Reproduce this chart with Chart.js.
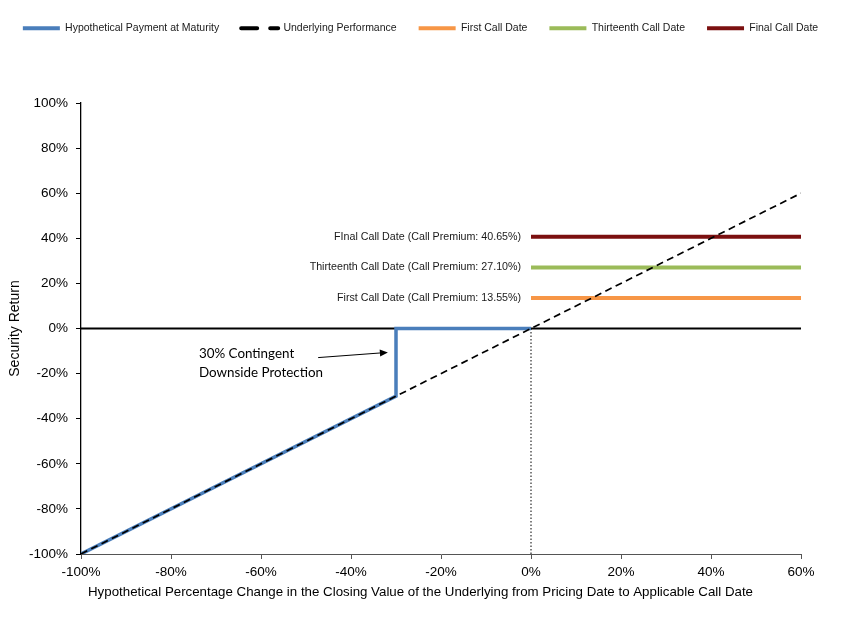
<!DOCTYPE html>
<html>
<head>
<meta charset="utf-8">
<script src="https://cdn.jsdelivr.net/npm/chart.js@4.4.0/dist/chart.umd.min.js"></script>
<style>
    body { margin: 0; background: #fff; }
</style>
</head>
<body>
<canvas id="myChart" width="841" height="623"></canvas>
<script>
// payoff at maturity (blue)
const payX = [-100, -30, -30, 0];
const payY = [-100, -30, 0, 0];

// underlying performance (dashed)
const underX = [-100, 60];
const underY = [-100, 60];

// call dates: flat premium lines from 0% to 60%
const callNames = ['First Call Date', 'Thirteenth Call Date', 'Final Call Date'];
const callPremiums = [13.55, 27.10, 40.65];
const callLabels = [
    'First Call Date (Call Premium: 13.55%)',
    'Thirteenth Call Date (Call Premium: 27.10%)',
    'FInal Call Date (Call Premium: 40.65%)'
];
const callX = [0, 60];
const callColors = ['#f79646', '#9bbb59', '#7b1010'];

const xTicks = [-100, -80, -60, -40, -20, 0, 20, 40, 60];
const yTicks = [-100, -80, -60, -40, -20, 0, 20, 40, 60, 80, 100];

const noteLines = ['30% Contingent', 'Downside Protection'];

const FONT = "'Liberation Sans', Arial, sans-serif";

function toPoints (xs, ys) {
    return xs.map((x, i) => ({ x: x, y: ys[i] }));
}

const datasets = [
    {
        label: 'Hypothetical Payment at Maturity',
        data: toPoints(payX, payY),
        borderColor: '#4a7ebb',
        borderWidth: 3.5,
        order: 2
    },
    {
        label: 'Underlying Performance',
        data: toPoints(underX, underY),
        borderColor: '#000',
        borderWidth: 1.7,
        borderDash: [7, 4.5],
        order: 0
    }
];

callPremiums.forEach((p, i) => {
    datasets.push({
        label: callNames[i],
        data: toPoints(callX, [p, p]),
        borderColor: callColors[i],
        borderWidth: 4,
        order: 3
    });
});

// zero line and dotted marker at 0%
datasets.push({
    label: 'zero',
    data: toPoints([-100, 60], [0, 0]),
    borderColor: '#000',
    borderWidth: 2,
    order: 5
});
datasets.push({
    label: 'marker',
    data: toPoints([0, 0], [0, -100]),
    borderColor: '#000',
    borderWidth: 1,
    borderDash: [1.5, 2],
    order: 4
});

datasets.forEach(ds => {
    ds.showLine = true;
    ds.pointRadius = 0;
    ds.pointHoverRadius = 0;
    ds.fill = false;
    ds.tension = 0;
});

// legend gets a fixed block so the plot starts where the original does
const legendSpace = {
    id: 'legendSpace',
    beforeInit (chart) {
        const origFit = chart.legend.fit;
        chart.legend.fit = function () {
            origFit.call(this);
            this.height = 102;
        };
    }
};

const notes = {
    id: 'notes',
    afterDatasetsDraw (chart) {
        const ctx = chart.ctx;
        const xs = chart.scales.x;
        const ys = chart.scales.y;
        ctx.save();

        // call premium labels
        ctx.font = '10.7px ' + FONT;
        ctx.fillStyle = '#1a1a1a';
        ctx.textAlign = 'right';
        ctx.textBaseline = 'middle';
        callLabels.forEach((t, i) => {
            ctx.fillText(t, xs.getPixelForValue(-2.2), ys.getPixelForValue(callPremiums[i]));
        });

        // protection note
        ctx.font = '13.4px Lato, sans-serif';
        ctx.fillStyle = '#000';
        ctx.textAlign = 'left';
        ctx.fillText(noteLines[0], xs.getPixelForValue(-73.8), ys.getPixelForValue(-11.1));
        ctx.fillText(noteLines[1], xs.getPixelForValue(-73.8), ys.getPixelForValue(-19.5));

        // arrow
        const x1 = xs.getPixelForValue(-47.3), y1 = ys.getPixelForValue(-12.9);
        const x2 = xs.getPixelForValue(-31.8), y2 = ys.getPixelForValue(-10.6);
        const ang = Math.atan2(y2 - y1, x2 - x1);
        ctx.strokeStyle = '#000';
        ctx.lineWidth = 1;
        ctx.beginPath();
        ctx.moveTo(x1, y1);
        ctx.lineTo(x2 - 6 * Math.cos(ang), y2 - 6 * Math.sin(ang));
        ctx.stroke();
        ctx.beginPath();
        ctx.moveTo(x2, y2);
        ctx.lineTo(x2 - 8 * Math.cos(ang) + 3.5 * Math.sin(ang), y2 - 8 * Math.sin(ang) - 3.5 * Math.cos(ang));
        ctx.lineTo(x2 - 8 * Math.cos(ang) - 3.5 * Math.sin(ang), y2 - 8 * Math.sin(ang) + 3.5 * Math.cos(ang));
        ctx.closePath();
        ctx.fillStyle = '#000';
        ctx.fill();

        // x axis title, centred on the whole picture
        ctx.font = '13.3px ' + FONT;
        ctx.textAlign = 'center';
        ctx.fillStyle = '#000';
        ctx.fillText('Hypothetical Percentage Change in the Closing Value of the Underlying from Pricing Date to Applicable Call Date',
            chart.width / 2, 592);

        ctx.restore();
    }
};

const config = {
    type: 'scatter',
    data: { datasets },
    options: {
        responsive: false,
        animation: false,
        layout: { padding: { top: 1, left: 0, right: 0, bottom: 0 } },
        plugins: {
            tooltip: { enabled: false },
            legend: {
                position: 'top',
                labels: {
                    usePointStyle: true,
                    pointStyleWidth: 37,
                    padding: 22,
                    color: '#1a1a1a',
                    font: { family: FONT, size: 10.5 },
                    generateLabels (chart) {
                        return chart.data.datasets.slice(0, 5).map((ds, i) => ({
                            text: ds.label,
                            datasetIndex: i,
                            pointStyle: 'line',
                            strokeStyle: ds.borderColor,
                            fillStyle: ds.borderColor,
                            lineWidth: 4,
                            lineDash: i === 1 ? [16, 13] : [],
                            lineCap: i === 1 ? 'round' : 'butt',
                            fontColor: '#1a1a1a',
                            hidden: false
                        }));
                    }
                }
            }
        },
        scales: {
            x: {
                type: 'linear',
                min: -100,
                max: 60,
                afterFit (scale) { scale.height = 69; },
                afterBuildTicks (scale) { scale.ticks = xTicks.map(v => ({ value: v })); },
                grid: { drawOnChartArea: false, tickLength: 5, color: '#555' },
                border: { color: '#555', width: 1 },
                ticks: {
                    padding: 5,
                    color: '#000',
                    font: { family: FONT, size: 13.5 },
                    callback: v => v + '%'
                }
            },
            y: {
                type: 'linear',
                min: -100,
                max: 100,
                afterFit (scale) { scale.width = 81; },
                afterBuildTicks (scale) { scale.ticks = yTicks.map(v => ({ value: v })); },
                grid: { drawOnChartArea: false, tickLength: 5, color: '#000' },
                border: { color: '#000', width: 1.3 },
                title: {
                    display: true,
                    text: 'Security Return',
                    color: '#000',
                    font: { family: FONT, size: 14 },
                    padding: { top: 7, bottom: 0 }
                },
                ticks: {
                    padding: 8,
                    color: '#000',
                    font: { family: FONT, size: 13.5 },
                    callback: v => v + '%'
                }
            },
            // empty right margin, keeps the legend on one centred row
            yr: {
                type: 'linear',
                position: 'right',
                min: -100,
                max: 100,
                afterFit (scale) { scale.width = 40; },
                grid: { display: false },
                border: { display: false },
                ticks: { display: false }
            }
        }
    },
    plugins: [legendSpace, notes]
};

const myChart = new Chart(document.getElementById('myChart'), config);
</script>
</body>
</html>
